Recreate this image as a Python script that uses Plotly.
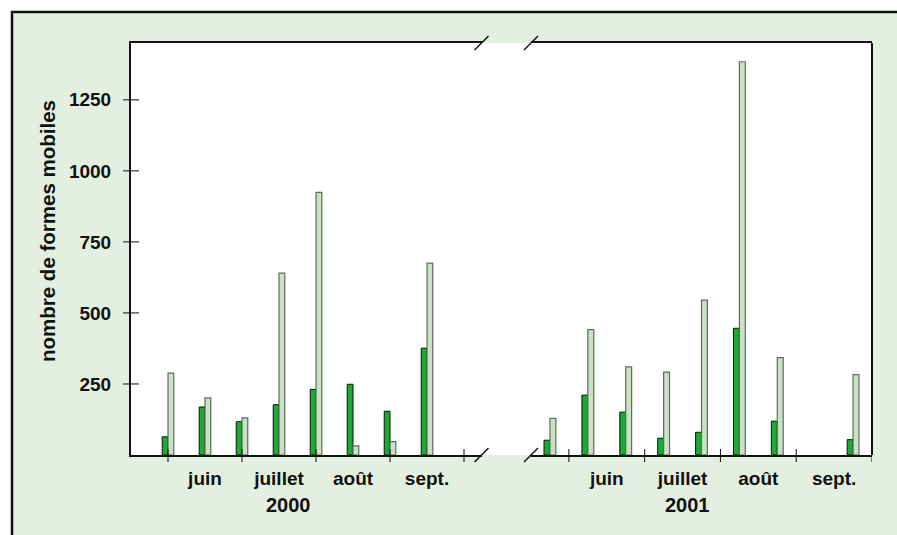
import plotly.graph_objects as go

# ---------------- data ----------------
months_label = ["juin", "juillet", "août", "sept."]
month_label_pos = [6.5, 7.5, 8.5, 9.5]
month_ticks = [6, 7, 8, 9, 10]

x_2000 = [6.0, 6.5, 7.0, 7.5, 8.0, 8.5, 9.0, 9.5]
dark_2000 = [64, 169, 117, 177, 231, 249, 154, 376]
light_2000 = [288, 201, 131, 640, 924, 32, 47, 675]

x_2001 = [5.75, 6.25, 6.75, 7.25, 7.75, 8.25, 8.75, 9.25, 9.75]
dark_2001 = [52, 211, 151, 59, 80, 446, 119, None, 54]
light_2001 = [129, 441, 310, 292, 545, 1384, 343, None, 283]

y_ticks = [250, 500, 750, 1000, 1250]
years = ["2000", "2001"]
year_pos = [7.63, 7.56]

# ---------------- layout constants (screen pixels; body margin removed) ----------------
W, H = 897, 535
PL, PR, PT, PB = 131, 872, 43, 455          # plot area on screen
L, T = PL, PT
R, B = W - PR, H - PB
PW, PH = PR - PL, PB - PT

def px(xs):
    return (xs - PL) / PW

def py(ys):
    return (PB - ys) / PH

BG = "#E3EFDF"
DARK = "#1BAA32"
LIGHT = "#C8E2C3"
INK = "#111111"
FONT = "Liberation Sans, Arial, sans-serif"

dom1 = [0, px(481.5)]
dom2 = [px(531), 1]

fig = go.Figure()
bw = 0.078
for xs, d, l, xa in [(x_2000, dark_2000, light_2000, "x"), (x_2001, dark_2001, light_2001, "x2")]:
    fig.add_trace(go.Bar(x=xs, y=d, xaxis=xa, yaxis="y", width=bw, offset=-bw,
                         marker=dict(color=DARK, line=dict(color=INK, width=1)),
                         showlegend=False, hoverinfo="skip"))
    fig.add_trace(go.Bar(x=xs, y=l, xaxis=xa, yaxis="y", width=bw, offset=0,
                         marker=dict(color=LIGHT, line=dict(color="#5f6b5f", width=1.2)),
                         showlegend=False, hoverinfo="skip"))

shapes = []
# outer frame (clipped at right/bottom) and plot area background
shapes.append(dict(type="rect", xref="paper", yref="paper", layer="below",
                   x0=px(12), x1=px(930), y0=py(570), y1=py(12),
                   fillcolor=BG, line=dict(color=INK, width=2.5)))
shapes.append(dict(type="rect", xref="paper", yref="paper", layer="below",
                   x0=0, x1=1, y0=0, y1=1, fillcolor="white", line=dict(width=0)))
# right border
shapes.append(dict(type="line", xref="paper", yref="paper", x0=1, x1=1, y0=0, y1=1,
                   line=dict(color=INK, width=2)))
# y ticks crossing the axis
for v in y_ticks:
    shapes.append(dict(type="line", xref="paper", yref="y", x0=-8 / PW, x1=8 / PW,
                       y0=v, y1=v, line=dict(color=INK, width=1)))
# x ticks crossing the axis
for xa in ["x", "x2"]:
    for t in month_ticks:
        shapes.append(dict(type="line", xref=xa, yref="paper", x0=t, x1=t,
                           y0=-7 / PH, y1=6 / PH, line=dict(color=INK, width=1)))
# axis-break slashes
for cx in [481.5, 531]:
    for cy in [PB, PT]:
        shapes.append(dict(type="line", xref="paper", yref="paper",
                           x0=px(cx - 7), x1=px(cx + 7), y0=py(cy + 7), y1=py(cy - 7),
                           line=dict(color=INK, width=1.5)))

xcommon = dict(showline=True, linecolor=INK, linewidth=2, mirror=True,
               showgrid=False, zeroline=False, tickmode="array",
               tickvals=month_label_pos, ticktext=months_label,
               ticks="outside", ticklen=5, tickcolor="rgba(0,0,0,0)",
               tickfont=dict(family=FONT, size=19, color=INK, weight="bold"))

annotations = []
for yr, xp, xa in zip(years, year_pos, ["x", "x2"]):
    annotations.append(dict(text="<b>%s</b>" % yr, xref=xa, yref="paper", x=xp,
                            y=py(505), xanchor="center", yanchor="middle", showarrow=False,
                            font=dict(family=FONT, size=20, color=INK)))
annotations.append(dict(text="<b>nombre de formes mobiles</b>", xref="paper", yref="paper",
                        x=px(47), y=py(231), textangle=-90, xanchor="center",
                        yanchor="middle", showarrow=False,
                        font=dict(family=FONT, size=20.5, color=INK)))

fig.update_layout(
    width=W, height=H,
    margin=dict(l=L, r=R, t=T, b=B, pad=0),
    paper_bgcolor="white", plot_bgcolor="rgba(0,0,0,0)",
    barmode="overlay",
    xaxis=dict(domain=dom1, range=[5.5, 5.5 + (481.5 - PL) / 74.0], anchor="y", **xcommon),
    xaxis2=dict(domain=dom2, range=[5.5, 10], anchor="y", **xcommon),
    yaxis=dict(range=[0, 1450], anchor="x", showline=True, linecolor=INK, linewidth=2,
               showgrid=False, zeroline=False, tickmode="array", tickvals=y_ticks,
               ticks="outside", ticklen=14, tickcolor="rgba(0,0,0,0)",
               tickfont=dict(family=FONT, size=19, color=INK, weight="bold")),
    shapes=shapes, annotations=annotations,
    font=dict(family=FONT, color=INK),
)

fig.write_html("out.html",
               config={"displayModeBar": False},
               post_script="document.documentElement.style.overflow='hidden';"
                           "document.body.style.overflow='hidden';"
                           "document.body.style.margin='0';")
